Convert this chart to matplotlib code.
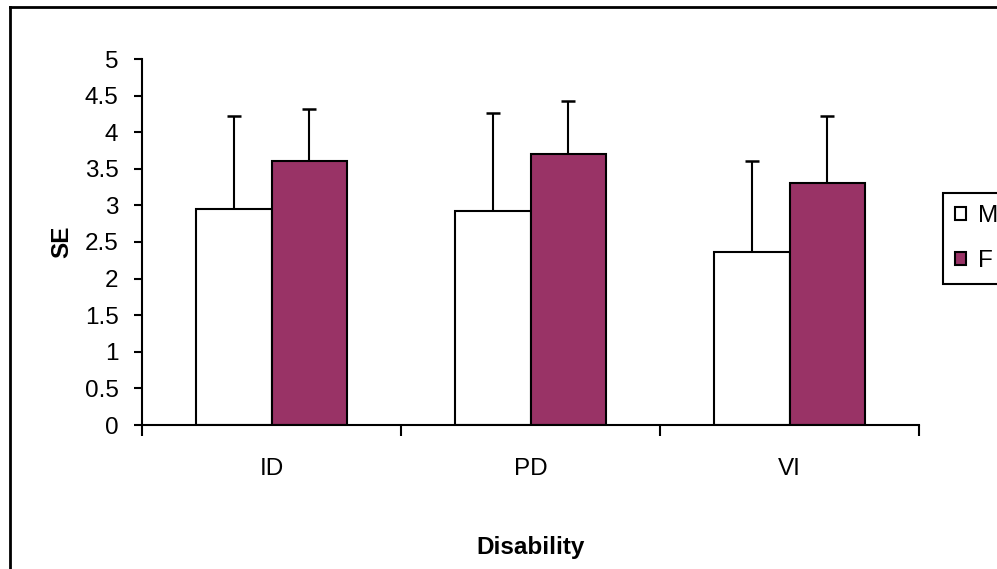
import matplotlib
matplotlib.use("Agg")
import matplotlib.pyplot as plt
from matplotlib.lines import Line2D
import numpy as np

plt.rcParams['font.family'] = ['Liberation Sans', 'DejaVu Sans']

categories = ["ID", "PD", "VI"]
series_names = ["M", "F"]
male_means = [2.95, 2.92, 2.37]
female_means = [3.60, 3.70, 3.31]
male_err = [1.27, 1.34, 1.23]
female_err = [0.72, 0.72, 0.91]
y_ticks = [0, 0.5, 1, 1.5, 2, 2.5, 3, 3.5, 4, 4.5, 5]
y_tick_labels = ["0", "0.5", "1", "1.5", "2", "2.5", "3", "3.5", "4", "4.5", "5"]

colors = ["#FFFFFF", "#993366"]

fig = plt.figure(figsize=(9.97, 5.69), dpi=100)
ax = fig.add_axes([142/997, 1-425/569, (919-142)/997, (425-59)/569])

x = np.arange(len(categories))
w = 0.29
fs = 17.5

ekw = dict(ecolor="black", elinewidth=1.5, capthick=1.8)
bars = []
for off, vals, errs, col, name in [(-w/2, male_means, male_err, colors[0], series_names[0]),
                                   (w/2, female_means, female_err, colors[1], series_names[1])]:
    c = ax.bar(x + off, vals, width=w, color=col, edgecolor="black",
               linewidth=1.5, label=name,
               yerr=[np.zeros(len(x)), errs], capsize=5, error_kw=ekw, zorder=2)
    eb = c.errorbar
    if eb is not None:
        caps = eb.lines[1]
        if len(caps) == 2:
            caps[0].set_visible(False)
    bars.append(c)

ax.set_xlim(-0.5, len(categories) - 0.5)
ax.set_ylim(0, 5)
ax.set_yticks(y_ticks)
ax.set_yticklabels(y_tick_labels, fontsize=fs)
ax.set_xticks(np.arange(len(categories) + 1) - 0.5)
ax.set_xticklabels([])
ax.set_xticks(x, minor=True)
ax.set_xticklabels(categories, minor=True, fontsize=fs)
ax.tick_params(axis="x", which="minor", length=0, pad=24)
ax.tick_params(axis="x", which="major", direction="out", length=8, width=1.5, color="black")
ax.tick_params(axis="y", direction="out", length=6, width=1.5, pad=11)

for s in ["top", "right"]:
    ax.spines[s].set_visible(False)
for s in ["left", "bottom"]:
    ax.spines[s].set_linewidth(1.5)
    ax.spines[s].set_color("black")

ax.set_ylabel("SE", fontsize=fs, fontweight="bold", labelpad=8)
ax.set_xlabel("Disability", fontsize=fs, fontweight="bold", labelpad=40)

leg = fig.legend(handles=bars, labels=series_names, loc="upper left",
                 bbox_to_anchor=(943/997, 1-193/569),
                 fontsize=fs, frameon=True, fancybox=False, framealpha=1,
                 edgecolor="black", handlelength=0.45, handleheight=0.45,
                 labelspacing=0.95, borderpad=0.5, handletextpad=0.5,
                 borderaxespad=0)
leg.get_frame().set_linewidth(1.5)
for h in leg.legend_handles:
    h.set_linewidth(1.5)

# chart-area border (top and left visible)
fig.add_artist(Line2D([10/997, 1.0], [1-7/569, 1-7/569], color="black", lw=2,
                      transform=fig.transFigure))
fig.add_artist(Line2D([10/997, 10/997], [0, 1-7/569], color="black", lw=2,
                      transform=fig.transFigure))

fig.savefig("out.png", dpi=100)
